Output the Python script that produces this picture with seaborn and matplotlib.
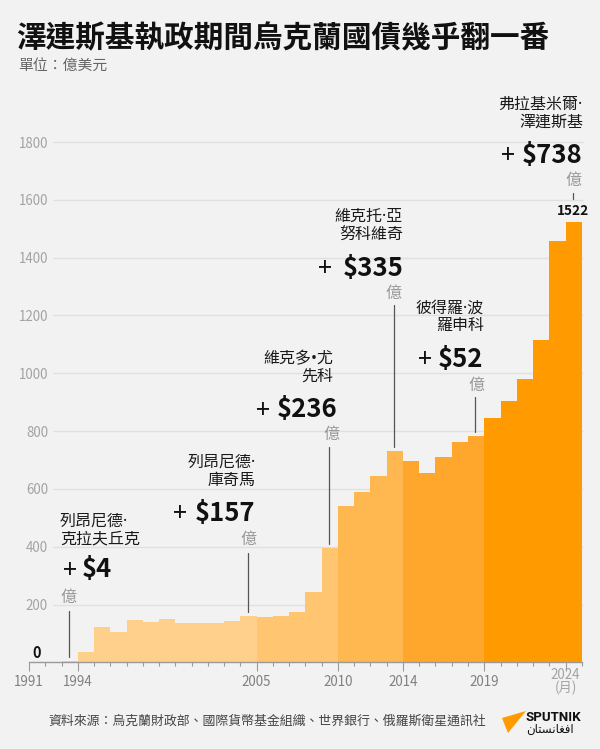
import matplotlib
matplotlib.use("Agg")
import matplotlib.pyplot as plt
from matplotlib.patches import Polygon
import seaborn as sns
import pandas as pd

# ---------------- data ----------------
years = list(range(1993, 2025))
debt = [4, 36, 122, 105, 146, 139, 149, 138, 136, 137, 142, 161,
        156, 160, 174, 245, 397,
        542, 591, 644, 732,
        698, 654, 709, 762, 784,
        844, 904, 980, 1115, 1456, 1522]
eras = (["kuchma"] * 12 + ["yushchenko"] * 5 + ["yanukovych"] * 4 +
        ["poroshenko"] * 5 + ["zelensky"] * 6)
era_colors = {"kuchma": "#FFD08C", "yushchenko": "#FFC570",
              "yanukovych": "#FFB74F", "poroshenko": "#FFA62C",
              "zelensky": "#FF9A00"}

title = "澤連斯基執政期間烏克蘭國債幾乎翻一番"
subtitle = "單位：億美元"
source = "資料來源：烏克蘭財政部、國際貨幣基金組織、世界銀行、俄羅斯衛星通訊社"
ytick_vals = [200, 400, 600, 800, 1000, 1200, 1400, 1600, 1800]
xtick_years = [1991, 1994, 2005, 2010, 2014, 2019]
xtick_labels = ["1991", "1994", "2005", "2010", "2014", "2019"]
last_label = "2024\n(月)"

# annotations: names, increase, end year of term
ann_names = ["列昂尼德·\n克拉夫丘克", "列昂尼德·\n庫奇馬", "維克多•尤\n先科",
             "維克托·亞\n努科維奇", "彼得羅·波\n羅申科", "弗拉基米爾·\n澤連斯基"]
ann_amounts = ["$4", "$157", "$236", "$335", "$52", "$738"]
ann_years = [1993, 2004, 2009, 2013, 2018, 2024]

# ---------------- style ----------------
sns.set_theme(style="white")
FONT = ["Noto Sans CJK TC", "DejaVu Sans"]
NAME_FONT = ["Noto Sans", "Noto Sans CJK TC", "DejaVu Sans"]
plt.rcParams["font.family"] = FONT
BG = "#F2F2F2"

W, H = 600, 749
fig = plt.figure(figsize=(6, 7.49), dpi=100, facecolor=BG)

def fx(x):
    return x / W

def fy(y):
    return 1 - y / H

x0px, x1px = 29, 581.8
y0px = 662.4
pxu = 0.28911  # px per unit
ytop = 1850
ytop_px = y0px - ytop * pxu
ax = fig.add_axes([fx(x0px), fy(y0px), (x1px - x0px) / W, (y0px - ytop_px) / H])
ax.set_facecolor(BG)

def xpx(year):
    return x0px + (year - 1991) * (x1px - x0px) / 34

df = pd.DataFrame({"pos": [y + 0.5 for y in years], "debt": debt, "era": eras})

# gridlines
gx0 = 1991 + (53 - x0px) / ((x1px - x0px) / 34)
gx1 = 1991 + (583 - x0px) / ((x1px - x0px) / 34)
ax.hlines(ytick_vals, gx0, gx1, color="#e0e0e0", lw=1, zorder=0, clip_on=False)

sns.barplot(data=df, x="pos", y="debt", hue="era", palette=era_colors,
            native_scale=True, width=1, linewidth=0, saturation=1,
            dodge=False, legend=False, ax=ax, zorder=2)

ax.set_xlim(1991, 2025)
ax.set_ylim(0, ytop)
ax.set_xlabel("")
ax.set_ylabel("")
for s in ["top", "right", "left"]:
    ax.spines[s].set_visible(False)
ax.spines["bottom"].set_color("#9a9a9a")
ax.spines["bottom"].set_linewidth(1)

ax.set_yticks(ytick_vals)
ax.set_yticklabels([str(v) for v in ytick_vals])
ax.tick_params(axis="y", length=0, pad=-13.7, labelcolor="#a3a3a3", labelsize=9.6)
for lab in ax.get_yticklabels():
    lab.set_horizontalalignment("right")

ax.set_xticks(xtick_years + [2024])
ax.set_xticklabels(xtick_labels + [""])
ax.set_xticks(list(range(1991, 2026)), minor=True)
ax.tick_params(axis="x", which="major", length=6.2, width=0.8, color="#9a9a9a",
               pad=3.0, labelsize=9.6, labelcolor="#808080", bottom=True)
ax.tick_params(axis="x", which="minor", length=2.6, width=0.8, color="#9a9a9a", bottom=True)
fig.text(fx(xpx(2024)), fy(681.5), last_label, ha="center", va="center",
         fontsize=9.6, color="#a3a3a3", linespacing=0.95)

# zero label
fig.text(fx(41), fy(653.3), "0", ha="right", va="center", fontsize=10.5,
         weight="bold", color="#111111")

# title / subtitle / source
fig.text(fx(16), fy(38), title, ha="left", va="center", fontsize=21.3,
         weight="black", color="#111111")
fig.text(fx(18), fy(67), subtitle, ha="left", va="center", fontsize=10.7, color="#666666")
fig.text(fx(48), fy(721.5), source, ha="left", va="center", fontsize=9.3, color="#444444")

# annotations (text layout in px)
NAME_C = "#1a1a1a"
layouts = [
    dict(nx=60, ha="left", ny=522, ax_=82, aha="left", ay=570, px=62.5, yx=60, yha="left", yy=597, lt=611),
    dict(nx=256, ha="right", ny=463, ax_=255, aha="right", ay=513, px=173, yx=248, yha="center", yy=539, lt=553),
    dict(nx=333, ha="right", ny=359, ax_=337.5, aha="right", ay=410, px=256, yx=331, yha="center", yy=434, lt=447),
    dict(nx=403, ha="right", ny=217, ax_=403, aha="right", ay=268, px=318, yx=393, yha="center", yy=293, lt=305),
    dict(nx=484, ha="right", ny=309, ax_=483, aha="right", ay=359, px=418, yx=476.7, yha="center", yy=385, lt=397),
    dict(nx=583, ha="right", ny=105, ax_=582.7, aha="right", ay=155, px=501.5, yx=573, yha="center", yy=180, lt=193),
]
for name, amt, yr, L, val in zip(ann_names, ann_amounts, ann_years, layouts,
                                  [debt[years.index(y)] for y in ann_years]):
    fig.text(fx(L["nx"]), fy(L["ny"] - 8), name, ha=L["ha"], va="top",
             fontsize=11.5, color=NAME_C, linespacing=1.12,
             multialignment=L["ha"], family=NAME_FONT)
    fig.text(fx(L["ax_"]), fy(L["ay"]), amt, ha=L["aha"], va="center",
             fontsize=18.5, weight="bold", color="#111111")
    fig.text(fx(L["px"]), fy(L["ay"] + 1), "+", ha="left", va="center",
             fontsize=18, color="#111111")
    fig.text(fx(L["yx"]), fy(L["yy"]), "億", ha=L["yha"], va="center",
             fontsize=11.5, color="#9a9a9a")
    lx = yr + 0.45
    top_val = (y0px - L["lt"]) / pxu
    if yr == 2024:
        bot_val = (y0px - 199) / pxu
    else:
        bot_val = val + 14
    ax.plot([lx, lx], [bot_val, top_val], color="#555555", lw=0.9,
            clip_on=False, zorder=3)

# last value label
ax.text(2024.5 - 0.05, debt[-1] + 40, str(debt[-1]), ha="center", va="center",
        fontsize=9.8, weight="bold", color="#111111", clip_on=False)

# sputnik logo
tri = Polygon([(fx(502), fy(718)), (fx(526), fy(711)), (fx(508), fy(733))],
              closed=True, transform=fig.transFigure, facecolor="#FF9A00",
              edgecolor="none")
fig.patches.append(tri)
fig.text(fx(525), fy(717.5), "SPUTNIK", ha="left", va="center", fontsize=9.5,
         weight="bold", color="#111111", family=["Roboto", "DejaVu Sans"])
arabic = "\uFEE5\uFE8E\uFE98\uFEB4\uFEE7\uFE8E\uFED0\uFED3\uFE8D"
fig.text(fx(526), fy(729.5), arabic, ha="left", va="center", fontsize=8.5,
         color="#111111", family=["DejaVu Sans"])

fig.savefig("out.png", dpi=100, facecolor=BG)
